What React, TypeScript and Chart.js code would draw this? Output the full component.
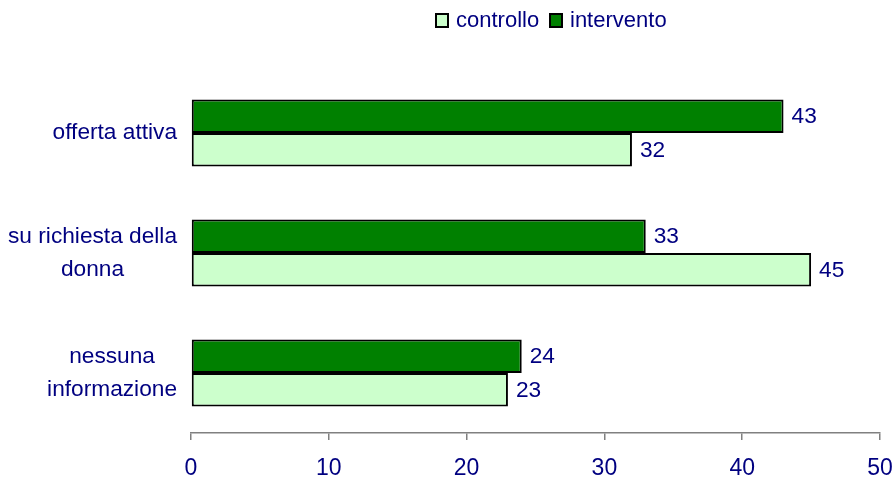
import React, { useEffect, useRef } from "react";
import { Chart, registerables } from "chart.js";

Chart.register(...registerables);

const categories: string[][] = [["offerta attiva"], ["su richiesta della", "donna"], ["nessuna", "informazione"]];
const seriesNames = ["intervento", "controllo"];
const intervento = [43, 33, 24];
const controllo = [32, 45, 23];
const xTicks = [0, 10, 20, 30, 40, 50];

const NAVY = "#000080";
const DARK = "#008000";
const LIGHT = "#CCFFCC";
const FONT = "Arial, 'Liberation Sans', sans-serif";

const customPlugin = {
  id: "custom",
  afterDraw(chart: any) {
    const ctx = chart.ctx;
    const y = chart.scales.y;
    ctx.save();
    ctx.fillStyle = NAVY;
    ctx.font = `22.7px ${FONT}`;
    ctx.textBaseline = "middle";
    const right = 177;
    const lh = 33;
    categories.forEach((lines, i) => {
      const cy = y.getPixelForValue(i);
      const maxW = Math.max(...lines.map((l) => ctx.measureText(l).width));
      const cx = right - maxW / 2;
      ctx.textAlign = "center";
      lines.forEach((l, j) => {
        ctx.fillText(l, cx, cy + (j - (lines.length - 1) / 2) * lh);
      });
    });
    ctx.textAlign = "left";
    chart.data.datasets.forEach((ds: any, di: number) => {
      const meta = chart.getDatasetMeta(di);
      meta.data.forEach((bar: any, i: number) => {
        ctx.fillText(String(ds.data[i]), bar.x + 8, bar.y + 1);
      });
    });
    ctx.font = `22px ${FONT}`;
    const items = [
      { label: seriesNames[1], color: LIGHT, x: 436 },
      { label: seriesNames[0], color: DARK, x: 550 },
    ];
    items.forEach((it) => {
      ctx.fillStyle = it.color;
      ctx.fillRect(it.x, 14, 12, 13);
      ctx.strokeStyle = "#000";
      ctx.lineWidth = 2;
      ctx.strokeRect(it.x, 14, 12, 13);
      ctx.fillStyle = NAVY;
      ctx.textAlign = "left";
      ctx.fillText(it.label, it.x + 20, 20.5);
    });
    ctx.restore();
  },
};

export default function App() {
  const ref = useRef<HTMLCanvasElement>(null);
  useEffect(() => {
    document.body.style.margin = "0";
    const chart = new Chart(ref.current!, {
      type: "bar",
      data: {
        labels: categories.map((c) => c.join(" ")),
        datasets: [
          {
            label: seriesNames[0],
            data: intervento,
            backgroundColor: DARK,
            borderColor: "#000",
            borderWidth: 2,
            borderSkipped: false,
            categoryPercentage: 0.56,
            barPercentage: 1,
          },
          {
            label: seriesNames[1],
            data: controllo,
            backgroundColor: LIGHT,
            borderColor: "#000",
            borderWidth: 2,
            borderSkipped: false,
            categoryPercentage: 0.56,
            barPercentage: 1,
          },
        ],
      },
      options: {
        indexAxis: "y",
        animation: false,
        responsive: false,
        layout: { padding: { left: 191, top: 73, right: 15, bottom: 0 } },
        plugins: { legend: { display: false }, tooltip: { enabled: false } },
        scales: {
          y: { display: false },
          x: {
            min: 0,
            max: 50,
            afterBuildTicks: (s: any) => {
              s.ticks = xTicks.map((v) => ({ value: v }));
            },
            afterFit: (s: any) => {
              s.height = 49;
              s.paddingRight = 0;
              s.paddingLeft = 0;
            },
            grid: { drawOnChartArea: false, drawTicks: true, tickLength: 7, color: "#808080", lineWidth: 1.5 },
            border: { display: true, color: "#808080", width: 1.5 },
            ticks: { color: NAVY, font: { size: 23, family: FONT }, padding: 15, maxRotation: 0 },
          },
        },
      },
      plugins: [customPlugin],
    });
    return () => chart.destroy();
  }, []);
  return (
    <div style={{ width: 895, height: 482 }}>
      <canvas ref={ref} width={895} height={482} style={{ display: "block" }} />
    </div>
  );
}
